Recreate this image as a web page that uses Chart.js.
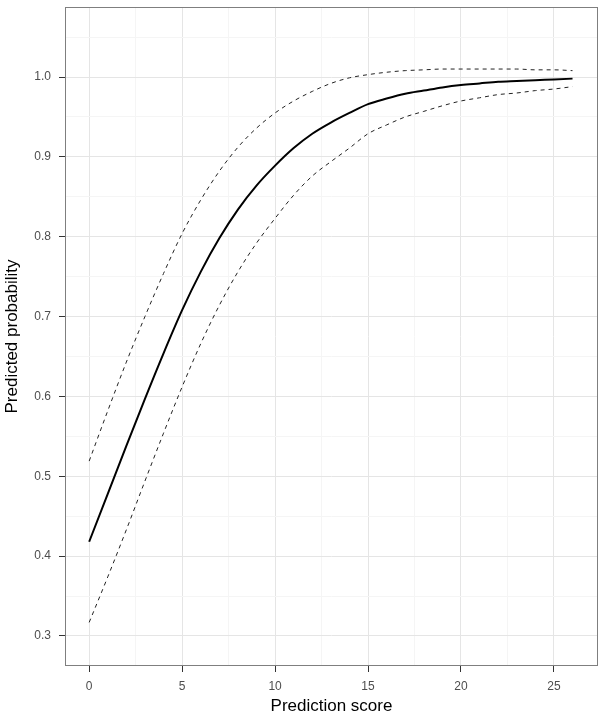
<!DOCTYPE html>
<html>
<head>
<meta charset="utf-8">
<script src="https://cdn.jsdelivr.net/npm/chart.js@4"></script>
<style>
  body { margin: 0; background: #fff; }
</style>
</head>
<body>
<canvas id="myChart" width="600" height="722"></canvas>
<script>
// prediction score 0..26 and the read-off fitted curve + interval
let scores = [0, 1, 2, 3, 4, 5, 6, 7, 8, 9, 10, 11, 12, 13, 14, 15, 16, 17, 18, 19, 20, 21, 22, 23, 24, 25, 26];
let fitted = [0.418, 0.478, 0.538, 0.597, 0.654, 0.708, 0.756, 0.798, 0.834, 0.864, 0.889, 0.911, 0.929, 0.943, 0.955, 0.966, 0.973, 0.979, 0.983, 0.987, 0.990, 0.992, 0.994, 0.995, 0.996, 0.997, 0.998];
let upper = [0.519, 0.582, 0.643, 0.700, 0.754, 0.804, 0.846, 0.882, 0.912, 0.936, 0.955, 0.970, 0.982, 0.992, 0.999, 1.003, 1.006, 1.008, 1.009, 1.010, 1.010, 1.010, 1.010, 1.010, 1.009, 1.009, 1.008];
let lower = [0.317, 0.374, 0.433, 0.494, 0.554, 0.612, 0.666, 0.714, 0.756, 0.792, 0.823, 0.852, 0.876, 0.894, 0.911, 0.929, 0.940, 0.950, 0.957, 0.964, 0.970, 0.974, 0.978, 0.980, 0.983, 0.985, 0.988];

let xMajor = [0, 5, 10, 15, 20, 25];
let xMinor = [2.5, 7.5, 12.5, 17.5, 22.5];
let yMajor = [0.3, 0.4, 0.5, 0.6, 0.7, 0.8, 0.9, 1.0];
let yMinor = [0.35, 0.45, 0.55, 0.65, 0.75, 0.85, 0.95, 1.05];

function pts(ys) {
    return scores.map(function (s, i) { return { x: s, y: ys[i] }; });
}

function isMajor(list, v) {
    return list.some(function (m) { return Math.abs(m - v) < 1e-6; });
}

function tickList(major, minor) {
    return major.concat(minor).sort(function (a, b) { return a - b; })
        .map(function (v) { return { value: v }; });
}

let panelBorder = {
    id: 'panelBorder',
    afterDraw: function (chart) {
        let a = chart.chartArea;
        let c = chart.ctx;
        c.save();
        c.strokeStyle = '#7f7f7f';
        c.lineWidth = 1;
        c.strokeRect(a.left + 0.5, a.top + 0.5, a.right - a.left - 1, a.bottom - a.top - 1);
        c.restore();
    }
};

document.addEventListener("DOMContentLoaded", function () {
    let ctx = document.getElementById('myChart').getContext("2d");

    let dashed = {
        borderColor: '#222',
        borderWidth: 1,
        borderDash: [4, 4],
        pointRadius: 0,
        fill: false,
        cubicInterpolationMode: 'monotone'
    };

    new Chart(ctx, {
        type: 'line',
        data: {
            datasets: [
                Object.assign({ label: 'upper', data: pts(upper) }, dashed),
                Object.assign({ label: 'lower', data: pts(lower) }, dashed),
                {
                    label: 'fitted',
                    data: pts(fitted),
                    borderColor: '#000',
                    borderWidth: 2,
                    pointRadius: 0,
                    fill: false,
                    cubicInterpolationMode: 'monotone'
                }
            ]
        },
        options: {
            responsive: false,
            animation: false,
            layout: { padding: { top: 7, right: 2, left: 0, bottom: 0 } },
            plugins: {
                legend: { display: false },
                tooltip: { enabled: false }
            },
            scales: {
                x: {
                    type: 'linear',
                    min: -1.3,
                    max: 27.37,
                    afterBuildTicks: function (scale) { scale.ticks = tickList(xMajor, xMinor); },
                    afterFit: function (scale) {
                        scale.height = 56;
                        scale.paddingLeft = 0;
                        scale.paddingRight = 0;
                    },
                    border: { display: false },
                    grid: {
                        color: function (c) { return isMajor(xMajor, c.tick.value) ? '#e5e5e5' : '#f5f5f5'; },
                        tickColor: function (c) { return isMajor(xMajor, c.tick.value) ? '#333' : 'rgba(0,0,0,0)'; },
                        tickLength: 6,
                        lineWidth: 1
                    },
                    ticks: {
                        autoSkip: false,
                        maxRotation: 0,
                        padding: 7,
                        color: '#4d4d4d',
                        font: { family: 'Liberation Sans, Arial, sans-serif', size: 12 },
                        callback: function (v) { return isMajor(xMajor, v) ? String(v) : ''; }
                    },
                    title: {
                        display: true,
                        text: 'Prediction score',
                        color: '#000',
                        padding: { top: 0, bottom: 5 },
                        font: { family: 'Liberation Sans, Arial, sans-serif', size: 17 }
                    }
                },
                y: {
                    min: 0.2624,
                    max: 1.0877,
                    afterBuildTicks: function (scale) { scale.ticks = tickList(yMajor, yMinor); },
                    afterFit: function (scale) {
                        scale.width = 65;
                        scale.paddingTop = 0;
                        scale.paddingBottom = 0;
                    },
                    border: { display: false },
                    grid: {
                        color: function (c) { return isMajor(yMajor, c.tick.value) ? '#e5e5e5' : '#f5f5f5'; },
                        tickColor: function (c) { return isMajor(yMajor, c.tick.value) ? '#333' : 'rgba(0,0,0,0)'; },
                        tickLength: 6,
                        lineWidth: 1
                    },
                    ticks: {
                        autoSkip: false,
                        padding: 8,
                        color: '#4d4d4d',
                        font: { family: 'Liberation Sans, Arial, sans-serif', size: 12 },
                        callback: function (v) { return isMajor(yMajor, v) ? v.toFixed(1) : ''; }
                    },
                    title: {
                        display: true,
                        text: 'Predicted probability',
                        color: '#000',
                        padding: { top: 2, bottom: 0 },
                        font: { family: 'Liberation Sans, Arial, sans-serif', size: 17 }
                    }
                }
            }
        },
        plugins: [panelBorder]
    });
});
</script>
</body>
</html>
